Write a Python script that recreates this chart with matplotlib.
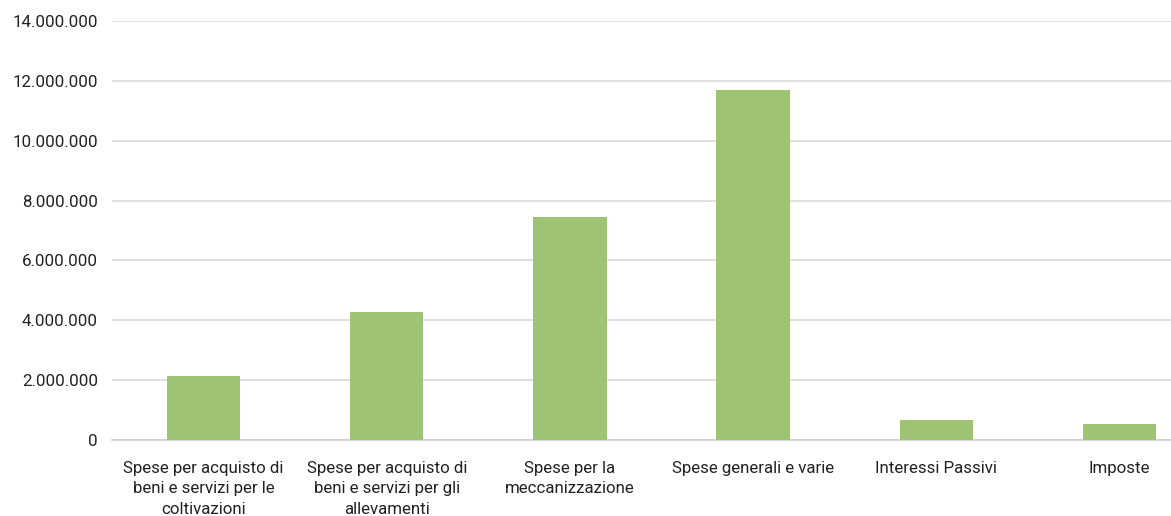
import matplotlib.pyplot as plt
from matplotlib.ticker import FuncFormatter

# categories and values (euro)
categories = [
    "Spese per acquisto di\nbeni e servizi per le\ncoltivazioni",
    "Spese per acquisto di\nbeni e servizi per gli\nallevamenti",
    "Spese per la\nmeccanizzazione",
    "Spese generali e varie",
    "Interessi Passivi",
    "Imposte",
]
values = [2140000, 4280000, 7450000, 11680000, 670000, 520000]
y_ticks = [0, 2000000, 4000000, 6000000, 8000000, 10000000, 12000000, 14000000]

plt.rcParams['font.family'] = ['Roboto', 'DejaVu Sans']

W, H = 1171, 516
fig = plt.figure(figsize=(W / 100, H / 100), dpi=100)
# plot area runs past the right edge, as in the cropped original
ax = fig.add_axes([112 / W, 1 - 440 / H, (1211 - 112) / W, (440 - 21) / H])

x = range(len(categories))
ax.bar(x, values, width=0.4, color='#9DC373', zorder=3)

ax.set_xlim(-0.5, len(categories) - 0.5)
ax.set_ylim(0, 14000000)
ax.set_yticks(y_ticks)
ax.yaxis.set_major_formatter(FuncFormatter(lambda v, p: f"{int(v):,}".replace(",", ".")))
ax.set_xticks(list(x))
ax.set_xticklabels(categories, fontsize=12.4, color='#222222', linespacing=1.45)

ax.grid(axis='y', color='#D9D9D9', linewidth=1.2, zorder=0)
for s in ['top', 'right', 'left']:
    ax.spines[s].set_visible(False)
ax.spines['bottom'].set_color('#D0D0D0')
ax.spines['bottom'].set_linewidth(1.3)
ax.tick_params(axis='both', length=0, labelsize=12.2, labelcolor='#222222')
ax.tick_params(axis='y', pad=10)
ax.tick_params(axis='x', pad=15)

fig.savefig('out.png', dpi=100)
